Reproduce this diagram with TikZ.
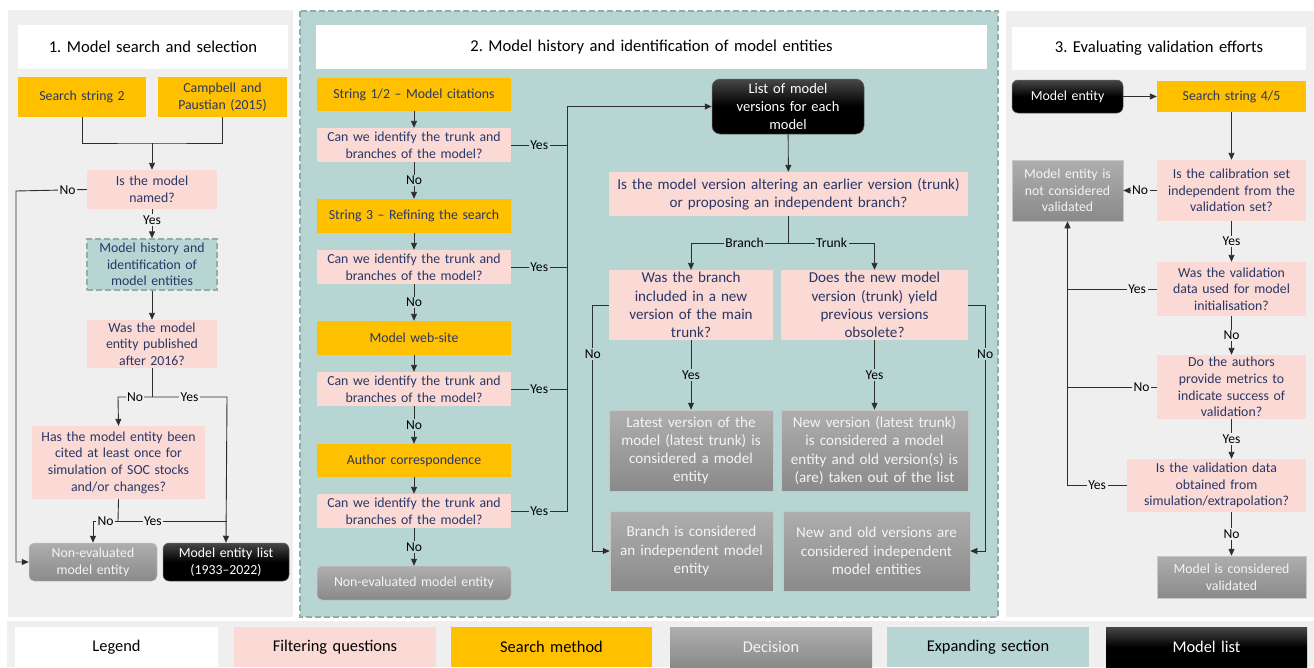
\documentclass[tikz,border=0pt]{standalone}
\usepackage{fontspec}
\setmainfont{Carlito}
\usetikzlibrary{arrows.meta}
\definecolor{pnl}{HTML}{EFEFEF}
\definecolor{pinkq}{HTML}{FBDAD5}
\definecolor{yel}{HTML}{FFC000}
\definecolor{tealbg}{HTML}{B7D5D3}
\definecolor{tealedge}{HTML}{93ADAB}
\definecolor{navy}{HTML}{283766}
\definecolor{lnc}{HTML}{2E2E2E}
\definecolor{decT}{HTML}{AEAEAE}
\definecolor{decB}{HTML}{8A8A8A}
\definecolor{dectxt}{HTML}{F4F4F4}
\newcommand\fntQ{\fontsize{13.8}{16.7}\selectfont}
\newcommand\fntB{\fontsize{15.1}{18.2}\selectfont}
\newcommand\fntK{\fontsize{14.5}{17.6}\selectfont}
\newcommand\fntT{\fontsize{16.6}{20}\selectfont}
\newcommand\fntL{\fontsize{13.6}{16}\selectfont}
\newcommand\fntG{\fontsize{16.4}{20}\selectfont}
\newcommand\mkbox[7]{%
  \pgfmathsetmacro\mkW{#5-#3}\pgfmathsetmacro\mkH{#6-#4}%
  \pgfmathsetmacro\mkX{(#3+#5)/2}\pgfmathsetmacro\mkY{(#4+#6)/2}%
  \node[#2, minimum width=\mkW pt, minimum height=\mkH pt, text width=\mkW pt] (#1) at (\mkX,\mkY) {#7};}
\frenchspacing
\begin{document}
\begin{tikzpicture}[x=1pt,y=-1pt,
  base/.style={inner sep=0pt, align=center, font=\fntQ},
  qbox/.style={base, fill=pinkq, text=navy},
  srch/.style={base, fill=yel, text=navy},
  dec/.style={base, top color=decT, bottom color=decB, draw=black!22, line width=0.5pt, text=dectxt},
  decr/.style={dec, rounded corners=5pt},
  blk/.style={base, top color=black!72, bottom color=black, middle color=black, draw=black!60, line width=0.5pt, text=white, rounded corners=6pt},
  expb/.style={base, fill=tealbg, draw=tealedge, line width=1.3pt, dash pattern=on 6pt off 3pt, text=navy},
  ttl/.style={base, fill=white, text=black, font=\fntT},
  leg/.style={base, font=\fntG},
  ln/.style={draw=lnc, line width=0.9pt},
  arr/.style={ln, -{Triangle[length=7pt,width=6pt]}},
  lblG/.style={fill=pnl, inner sep=1.5pt, text=black, font=\fntL},
  lblT/.style={fill=tealbg, inner sep=1.5pt, text=black, font=\fntL}]
\useasboundingbox (0,0) rectangle (1314,667);
\fill[white] (0,0) rectangle (1314,667);
% panels
\fill[pnl] (8,10) rectangle (293,617);
\fill[pnl] (1006,11) rectangle (1314,617);
\fill[pnl] (7,621) rectangle (1314,667);
\path[fill=tealbg, draw=tealedge, line width=1.3pt, dash pattern=on 6pt off 3pt] (300,11) rectangle (998,617);

% ---------- panel 1 ----------
\mkbox{ttl1}{ttl}{18}{25}{288}{69}{1. Model search and selection}
\mkbox{ss2}{srch}{18}{77}{146}{117}{Search string 2}
\mkbox{cp}{srch}{158}{77}{287}{117}{Campbell and\\Paustian (2015)}
\mkbox{named}{qbox}{87}{170}{217}{209}{Is the model\\named?}
\mkbox{mhist}{expb}{87}{239}{217}{290}{Model history and\\identification of\\model entities}
\mkbox{pub}{qbox}{87}{320}{217}{368}{Was the model\\entity published\\after 2016?}
\mkbox{has}{qbox}{32}{426}{205}{499}{Has the model entity been\\cited at least once for\\simulation of SOC stocks\\and/or changes?}
\mkbox{nonev}{decr}{29}{543}{157}{581}{Non-evaluated\\model entity}
\mkbox{mel}{blk}{163}{543}{289}{581}{Model entity list\\(1933--2022)}

\coordinate (j1) at (152,143);
\coordinate (nl) at (16,191);
\coordinate (j2) at (152,397);
\coordinate (j2l) at (118,397);
\coordinate (j2r) at (227,397);
\coordinate (j3) at (118,521);
\coordinate (j3l) at (93,521);
\coordinate (j3r) at (227,521);
\draw[ln] (ss2.south) |- (j1) -| (cp.south);
\draw[arr] (j1) -- (named.north);
\draw[arr] (named.west) -- node[lblG,pos=0.27]{No} (nl) |- (nonev.west);
\draw[arr] (named.south) -- node[lblG,pos=0.38]{Yes} (mhist.north);
\draw[arr] (mhist.south) -- (pub.north);
\draw[ln] (pub.south) -- (j2);
\draw[arr] (j2) -- node[lblG]{No} (j2l) -- (has.north);
\draw[arr] (j2) -- node[lblG]{Yes} (j2r) -- (mel.north);
\draw[ln] (has.south) -- (j3);
\draw[arr] (j3) -- node[lblG]{No} (j3l) -- (nonev.north);
\draw[ln] (j3) -- node[lblG,pos=0.32]{Yes} (j3r);

% ---------- panel 2 ----------
\mkbox{ttl2}{ttl}{316}{25}{987}{69}{2. Model history and identification of model entities}
\mkbox{s1}{srch}{317}{78}{511}{111}{String 1/2 -- Model citations}
\mkbox{q1}{qbox}{317}{128}{511}{162}{Can we identify the trunk and\\branches of the model?}
\mkbox{s2}{srch}{317}{199}{511}{233}{String 3 -- Refining the search}
\mkbox{q2}{qbox}{317}{250}{511}{284}{Can we identify the trunk and\\branches of the model?}
\mkbox{s3}{srch}{317}{321}{511}{355}{Model web-site}
\mkbox{q3}{qbox}{317}{372}{511}{406}{Can we identify the trunk and\\branches of the model?}
\mkbox{s4}{srch}{317}{444}{511}{477}{Author correspondence}
\mkbox{q4}{qbox}{317}{494}{511}{528}{Can we identify the trunk and\\branches of the model?}
\mkbox{nonev2}{decr}{317}{566}{511}{600}{Non-evaluated model entity}
\mkbox{list}{blk,font=\fntK,rounded corners=8pt}{712}{79}{864}{134}{List of model\\versions for each\\model}
\mkbox{mq}{qbox,font=\fntB}{609}{172}{968}{216}{Is the model version altering an earlier version (trunk)\\or proposing an independent branch?}
\mkbox{bq}{qbox,font=\fntB}{609}{270}{773}{340}{Was the branch\\included in a new\\version of the main\\trunk?}
\mkbox{tq}{qbox,font=\fntB}{781}{270}{968}{340}{Does the new model\\version (trunk) yield\\previous versions\\obsolete?}
\mkbox{lat}{dec,font=\fntB}{609}{410}{773}{491}{Latest version of the\\model (latest trunk) is\\considered a model\\entity}
\mkbox{newv}{dec,font=\fntB}{781}{410}{968}{491}{New version (latest trunk)\\is considered a model\\entity and old version(s) is\\(are) taken out of the list}
\mkbox{bind}{dec,font=\fntB}{610}{511}{773}{591}{Branch is considered\\an independent model\\entity}
\mkbox{nind}{dec,font=\fntB}{783}{511}{970}{591}{New and old versions are\\considered independent\\model entities}

\draw[arr] (s1) -- (q1);
\draw[arr] (q1) -- node[lblT]{No} (s2);
\draw[arr] (s2) -- (q2);
\draw[arr] (q2) -- node[lblT]{No} (s3);
\draw[arr] (s3) -- (q3);
\draw[arr] (q3) -- node[lblT]{No} (s4);
\draw[arr] (s4) -- (q4);
\draw[arr] (q4) -- node[lblT]{No} (nonev2);
\draw[ln] (q1.east) -- node[lblT]{Yes} ++(56,0);
\draw[ln] (q2.east) -- node[lblT]{Yes} ++(56,0);
\draw[ln] (q3.east) -- node[lblT]{Yes} ++(56,0);
\draw[arr] (q4.east) -- node[lblT]{Yes} ++(56,0) |- (list.west);
\draw[arr] (list) -- (mq);
\coordinate (j4) at (788.5,243);
\coordinate (j4l) at (691,243);
\coordinate (j4r) at (874.5,243);
\draw[ln] (mq.south) -- (j4);
\draw[arr] (j4) -- node[lblT,pos=0.45]{Branch} (j4l) -- (bq.north);
\draw[arr] (j4) -- node[lblT,pos=0.5]{Trunk} (j4r) -- (tq.north);
\draw[arr] (bq) -- node[lblT]{Yes} (lat);
\draw[arr] (tq) -- node[lblT]{Yes} (newv);
\draw[arr] (bq.west) -- ++(-16,0) |- node[lblT,pos=0.1]{No} (bind.west);
\draw[arr] (tq.east) -- ++(17,0) |- node[lblT,pos=0.1]{No} (nind.east);

% ---------- panel 3 ----------
\mkbox{ttl3}{ttl}{1012}{27}{1306}{70}{3. Evaluating validation efforts}
\mkbox{me}{blk}{1012}{80}{1123}{113}{Model entity}
\mkbox{ss45}{srch}{1157}{81}{1306}{112}{Search string 4/5}
\mkbox{notval}{dec}{1012}{160}{1123}{221}{Model entity is\\not considered\\validated}
\mkbox{rq1}{qbox}{1157}{160}{1306}{221}{Is the calibration set\\independent from the\\validation set?}
\mkbox{rq2}{qbox}{1157}{262}{1306}{316}{Was the validation\\data used for model\\initialisation?}
\mkbox{rq3}{qbox}{1157}{355}{1306}{419}{Do the authors\\provide metrics to\\indicate success of\\validation?}
\mkbox{rq4}{qbox}{1127}{459}{1306}{512}{Is the validation data\\obtained from\\simulation/extrapolation?}
\mkbox{mval}{dec}{1157}{556}{1306}{598}{Model is considered\\validated}

\draw[arr] (me) -- (ss45);
\draw[arr] (ss45) -- (rq1);
\draw[arr] (rq1) -- node[lblG]{No} (notval);
\draw[arr] (rq1) -- node[lblG]{Yes} (rq2);
\draw[arr] (rq2) -- node[lblG]{No} (rq3);
\draw[arr] (rq3.south) -- node[lblG]{Yes} (rq3.south |- rq4.north);
\draw[arr] (rq4.south -| mval.north) -- node[lblG]{No} (mval.north);
\draw[ln] (rq2.west) -- node[lblG,pos=0.22]{Yes} (rq2.west -| notval.south);
\draw[ln] (rq3.west) -- node[lblG,pos=0.17]{No} (rq3.west -| notval.south);
\draw[arr] (rq4.west) -- node[lblG]{Yes} (rq4.west -| notval.south) -- (notval.south);

% ---------- legend ----------
\mkbox{lg0}{leg,fill=white,text=black}{15}{627}{218}{667}{Legend}
\mkbox{lg1}{leg,fill=pinkq,text=black}{234}{627}{436}{667}{Filtering questions}
\mkbox{lg2}{leg,fill=yel,text=black}{451}{627}{652}{667}{Search method}
\mkbox{lg3}{leg,top color=decT,bottom color=decB,text=dectxt}{670}{627}{872}{667}{Decision}
\mkbox{lg4}{leg,fill=tealbg,text=black}{887}{627}{1089}{667}{Expanding section}
\mkbox{lg5}{leg,top color=black!72,bottom color=black,middle color=black,text=white}{1106}{627}{1307}{667}{Model list}
\end{tikzpicture}
\end{document}
